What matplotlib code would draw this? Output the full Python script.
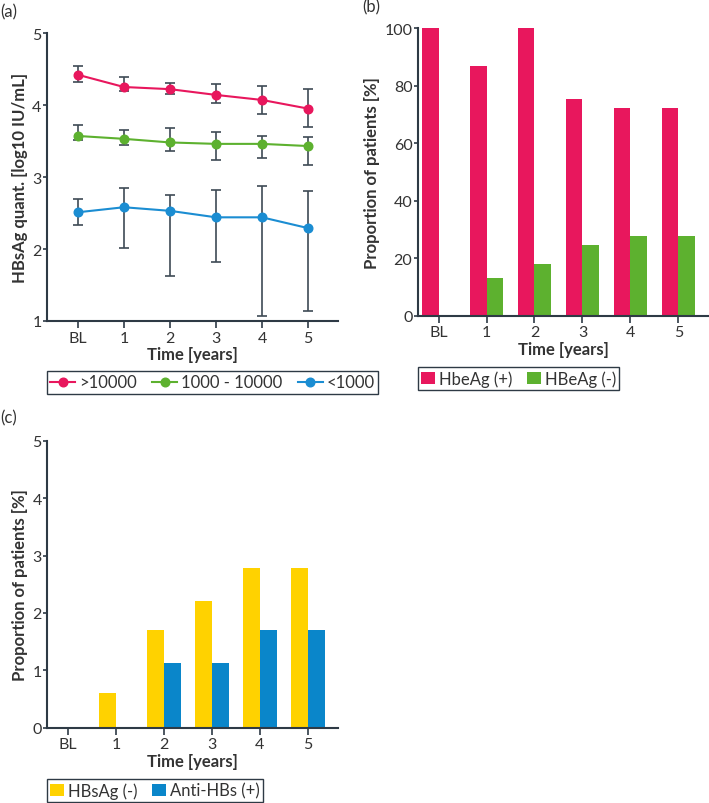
import matplotlib
matplotlib.use("Agg")
import matplotlib.pyplot as plt
import numpy as np

plt.rcParams['font.family'] = ['Lato', 'DejaVu Sans']

# ---------------- data ----------------
time_labels = ["BL", "1", "2", "3", "4", "5"]

# panel (a): HBsAg quant. (log10 IU/mL) by baseline group
hi_mean = [4.42, 4.25, 4.22, 4.14, 4.07, 3.95]
hi_low = [4.32, 4.19, 4.15, 4.03, 3.88, 3.69]
hi_high = [4.54, 4.39, 4.30, 4.29, 4.27, 4.22]

mid_mean = [3.57, 3.53, 3.48, 3.46, 3.46, 3.43]
mid_low = [3.51, 3.44, 3.36, 3.24, 3.26, 3.17]
mid_high = [3.72, 3.65, 3.68, 3.63, 3.57, 3.56]

lo_mean = [2.51, 2.58, 2.53, 2.44, 2.44, 2.29]
lo_low = [2.34, 2.02, 1.63, 1.82, 1.07, 1.14]
lo_high = [2.70, 2.85, 2.75, 2.82, 2.87, 2.80]

group_names = [">10000", "1000 - 10000", "<1000"]

# panel (b): HBeAg status (%)
hbeag_pos = [100, 86.9, 100, 75.3, 72.3, 72.3]
hbeag_neg = [0, 13.2, 18.1, 24.6, 27.7, 27.7]
b_names = ["HbeAg (+)", "HBeAg (-)"]

# panel (c): HBsAg loss / anti-HBs (%)
hbsag_neg = [0, 0.60, 1.71, 2.21, 2.79, 2.79]
antihbs_pos = [0, 0, 1.12, 1.12, 1.70, 1.70]
c_names = ["HBsAg (-)", "Anti-HBs (+)"]

# ---------------- style ----------------
RED = "#E8175D"
GREEN = "#5DB12F"
BLUE = "#1B8DD2"
YELLOW = "#FFD200"
BLUE2 = "#0A86CA"
AXC = "#2e3a45"
ERRC = "#3e4a55"
TXT = "#333333"
TICK_FS = 11.5
LAB_FS = 12
LEG_FS = 12

W, H = 709, 804
fig = plt.figure(figsize=(W / 100, H / 100), dpi=100)


def px_axes(left, top, right, bottom):
    return fig.add_axes([left / W, 1 - bottom / H, (right - left) / W, (bottom - top) / H])


def style_axes(ax):
    for s in ["top", "right"]:
        ax.spines[s].set_visible(False)
    for s in ["left", "bottom"]:
        ax.spines[s].set_color(AXC)
        ax.spines[s].set_linewidth(1.5)
    ax.tick_params(axis="both", colors=AXC, labelcolor=TXT, labelsize=TICK_FS, width=1.2)
    ax.tick_params(axis="y", length=3, pad=1)
    ax.tick_params(axis="x", length=5, pad=2)
    ax.set_xticks(range(len(time_labels)))
    ax.set_xticklabels(time_labels)
    ax.set_xlabel("Time [years]", fontsize=LAB_FS, fontweight="bold", color=TXT, labelpad=1)


def add_legend(handles, labels, left, top, hl):
    leg = fig.legend(handles, labels, loc="upper left",
                     bbox_to_anchor=(left / W, 1 - top / H), ncol=len(labels),
                     fontsize=LEG_FS, frameon=True, fancybox=False, framealpha=1,
                     edgecolor=AXC, borderpad=0.2, handletextpad=0.25,
                     handlelength=hl, columnspacing=0.9, borderaxespad=0)
    leg.get_frame().set_linewidth(1.0)
    for t in leg.get_texts():
        t.set_color(TXT)
    return leg


x = np.arange(len(time_labels))

# ---------------- panel (a) ----------------
axa = px_axes(47, 34, 338, 322)
style_axes(axa)
handles = []
for mean, lo, hi, col in [(hi_mean, hi_low, hi_high, RED),
                          (mid_mean, mid_low, mid_high, GREEN),
                          (lo_mean, lo_low, lo_high, BLUE)]:
    mean = np.array(mean)
    yerr = np.vstack([mean - np.array(lo), np.array(hi) - mean])
    axa.errorbar(x, mean, yerr=yerr, fmt="none", ecolor=ERRC, elinewidth=1.2,
                 capsize=3.6, capthick=1.2, zorder=2)
    h, = axa.plot(x, mean, "-o", color=col, lw=1.5, ms=6.2, zorder=3)
    handles.append(h)
axa.set_xlim(-0.67, 5.65)
axa.set_ylim(1, 5)
axa.set_yticks([1, 2, 3, 4, 5])
axa.set_ylabel("HBsAg quant. [log10 IU/mL]", fontsize=LAB_FS, fontweight="bold",
               color=TXT, labelpad=3)
add_legend(handles, group_names, 47, 372, 1.5)

# ---------------- panel (b) ----------------
bw = 0.35
axb = px_axes(418, 29.3, 709, 316.7)
style_axes(axb)
b1 = axb.bar(x - bw / 2, hbeag_pos, width=bw, color=RED)
b2 = axb.bar(x + bw / 2, hbeag_neg, width=bw, color=GREEN)
axb.set_xlim(-0.43, 5.64)
axb.set_ylim(0, 100)
axb.set_yticks([0, 20, 40, 60, 80, 100])
axb.set_ylabel("Proportion of patients [%]", fontsize=LAB_FS, fontweight="bold",
               color=TXT, labelpad=3)
add_legend([b1, b2], b_names, 418, 368, 0.8)

# ---------------- panel (c) ----------------
axc = px_axes(47.3, 441.7, 338, 728.7)
style_axes(axc)
c1 = axc.bar(x - bw / 2, hbsag_neg, width=bw, color=YELLOW)
c2 = axc.bar(x + bw / 2, antihbs_pos, width=bw, color=BLUE2)
axc.set_xlim(-0.43, 5.63)
axc.set_ylim(0, 5)
axc.set_yticks([0, 1, 2, 3, 4, 5])
axc.set_ylabel("Proportion of patients [%]", fontsize=LAB_FS, fontweight="bold",
               color=TXT, labelpad=3)
add_legend([c1, c2], c_names, 47, 780, 0.8)

# panel letters
fig.text(0 / W, 1 - 12 / H, "(a)", fontsize=LAB_FS, color=TXT, va="center", ha="left")
fig.text(362 / W, 1 - 7 / H, "(b)", fontsize=LAB_FS, color=TXT, va="center", ha="left")
fig.text(0 / W, 1 - 418 / H, "(c)", fontsize=LAB_FS, color=TXT, va="center", ha="left")

fig.savefig("out.png", dpi=100)
